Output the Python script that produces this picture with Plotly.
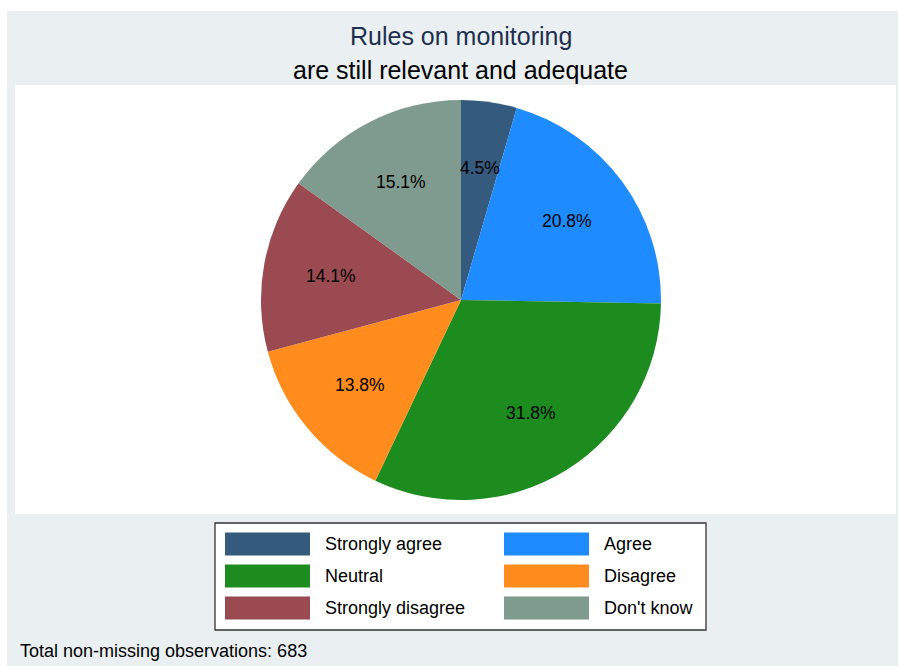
import math
import plotly.graph_objects as go

categories = ["Strongly agree", "Agree", "Neutral", "Disagree", "Strongly disagree", "Don't know"]
values = [4.5, 20.8, 31.8, 13.8, 14.1, 15.1]
colors = ["#345A7E", "#1E8CFF", "#1C8C1E", "#FF8C1C", "#9A4A50", "#7F9A8E"]
title_line1 = "Rules on monitoring"
title_line2 = "are still relevant and adequate"
note = "Total non-missing observations: 683"

W, H = 899, 666
FONT = "Liberation Sans, Arial, sans-serif"

def px(x):
    return x / W

def py(y):
    return 1 - y / H

# pie geometry (pixels)
cx, cy, R = 461, 300, 200

fig = go.Figure()
fig.add_trace(go.Pie(
    labels=categories, values=values,
    marker=dict(colors=colors, line=dict(width=0)),
    sort=False, direction="clockwise", rotation=0,
    textinfo="none", hoverinfo="label+percent",
    showlegend=False,
    domain=dict(x=[px(cx - R), px(cx + R)], y=[py(cy + R), py(cy - R)]),
))

shapes = []
annotations = []

# background panels
shapes.append(dict(type="rect", xref="paper", yref="paper", x0=px(7), x1=px(898), y0=py(666), y1=py(11),
                   fillcolor="#EAF0F2", line=dict(width=0), layer="below"))
shapes.append(dict(type="rect", xref="paper", yref="paper", x0=px(15), x1=px(896), y0=py(514), y1=py(85),
                   fillcolor="white", line=dict(width=0), layer="below"))

# slice labels at 0.66 radius along mid-angle
total = sum(values)
cum = 0
for v in values:
    mid = (cum + v / 2) / total * 2 * math.pi
    cum += v
    lx = cx + 0.66 * R * math.sin(mid)
    ly = cy - 0.665 * R * math.cos(mid)
    annotations.append(dict(xref="paper", yref="paper", x=px(lx), y=py(ly), text=f"{v:.1f}%",
                            showarrow=False, font=dict(family=FONT, size=17.5, color="black"),
                            xanchor="center", yanchor="middle"))

# titles
annotations.append(dict(xref="paper", yref="paper", x=px(461), y=py(36), text=title_line1, showarrow=False,
                        font=dict(family=FONT, size=25, color="#1E2F4F"), xanchor="center", yanchor="middle"))
annotations.append(dict(xref="paper", yref="paper", x=px(461), y=py(70), text=title_line2, showarrow=False,
                        font=dict(family=FONT, size=25, color="black"), xanchor="center", yanchor="middle"))

# legend box
shapes.append(dict(type="rect", xref="paper", yref="paper", x0=px(215), x1=px(706), y0=py(630), y1=py(523),
                   fillcolor="white", line=dict(color="#333333", width=1.3)))
for i, (cat, col) in enumerate(zip(categories, colors)):
    row, colm = divmod(i, 2)
    kx0 = 225 if colm == 0 else 504
    ky = 544 + row * 32
    shapes.append(dict(type="rect", xref="paper", yref="paper", x0=px(kx0), x1=px(kx0 + 85),
                       y0=py(ky + 11.5), y1=py(ky - 11.5), fillcolor=col, line=dict(width=0)))
    annotations.append(dict(xref="paper", yref="paper", x=px(kx0 + 98), y=py(ky), text=cat, showarrow=False,
                            font=dict(family=FONT, size=18, color="black"), xanchor="left", yanchor="middle"))

# note
annotations.append(dict(xref="paper", yref="paper", x=px(18), y=py(651), text=note, showarrow=False,
                        font=dict(family=FONT, size=18, color="black"), xanchor="left", yanchor="middle"))

fig.update_layout(
    width=W, height=H,
    margin=dict(l=0, r=0, t=0, b=0),
    paper_bgcolor="white", plot_bgcolor="white",
    shapes=shapes, annotations=annotations,
    showlegend=False,
)
fig.write_html("out.html", config={"displayModeBar": False},
               post_script="document.body.style.margin='0';document.body.style.overflow='hidden';")
